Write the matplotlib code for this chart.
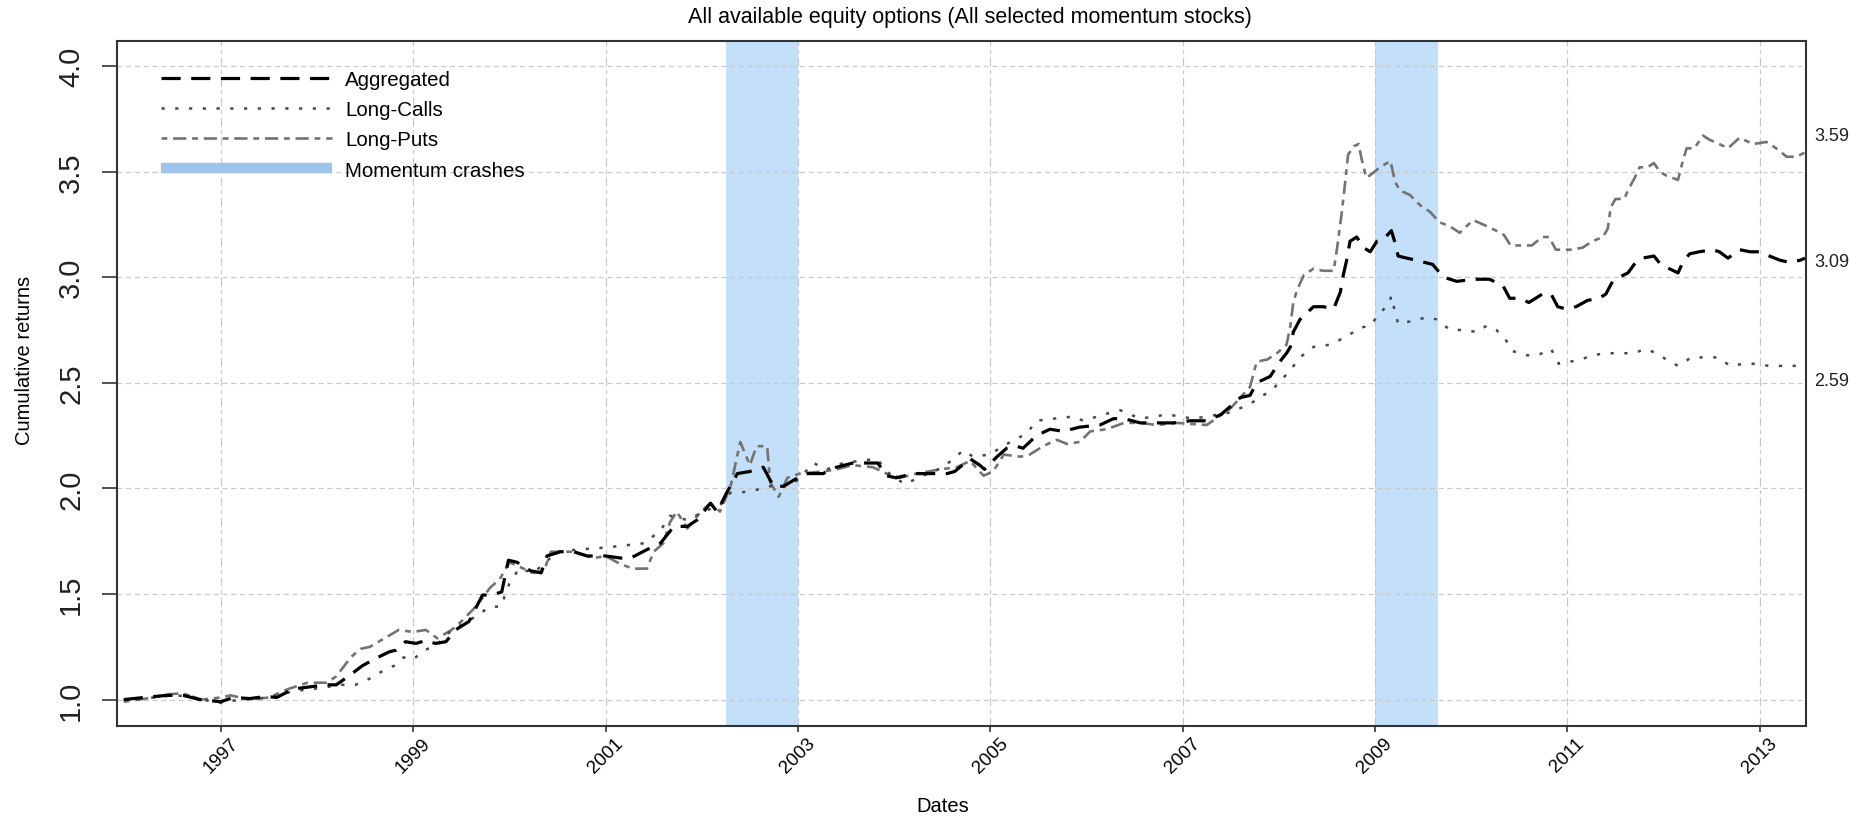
import matplotlib
matplotlib.use("Agg")
import matplotlib.pyplot as plt
from matplotlib.lines import Line2D
from matplotlib.transforms import blended_transform_factory

plt.rcParams['font.family'] = ['Liberation Sans', 'DejaVu Sans']

# cumulative returns (decimal years)
agg_t = [1995.99, 1996.26, 1996.44, 1996.61, 1996.78, 1997.0, 1997.13, 1997.30, 1997.47, 1997.58,
         1997.75, 1997.92, 1998.09, 1998.2, 1998.34, 1998.47, 1998.61, 1998.75, 1998.82, 1998.92,
         1999.03, 1999.13, 1999.23, 1999.34, 1999.44, 1999.58, 1999.72, 1999.82, 1999.92, 1999.99,
         2000.08, 2000.22, 2000.33, 2000.39, 2000.53, 2000.67, 2000.81, 2001.0, 2001.16, 2001.26,
         2001.43, 2001.57, 2001.71, 2001.85, 2001.95, 2002.09, 2002.16, 2002.26, 2002.37, 2002.5,
         2002.64, 2002.71, 2002.75, 2002.85, 2002.96, 2003.09, 2003.26, 2003.4, 2003.57, 2003.75,
         2003.83, 2003.92, 2004.02, 2004.2, 2004.37, 2004.55, 2004.63, 2004.79, 2004.89, 2004.94,
         2005.07, 2005.17, 2005.27, 2005.34, 2005.48, 2005.62, 2005.76, 2005.93, 2006.14, 2006.28,
         2006.39, 2006.56, 2006.73, 2006.9, 2007.08, 2007.25, 2007.4, 2007.5, 2007.6, 2007.7,
         2007.77, 2007.91, 2008.01, 2008.08, 2008.12, 2008.15, 2008.22, 2008.36, 2008.46, 2008.57,
         2008.64, 2008.67, 2008.71, 2008.74, 2008.81, 2008.88, 2008.95, 2009.02, 2009.09, 2009.17,
         2009.21, 2009.24, 2009.33, 2009.43, 2009.6, 2009.71, 2009.85, 2010.02, 2010.19, 2010.33,
         2010.4, 2010.5, 2010.6, 2010.67, 2010.74, 2010.83, 2010.9, 2010.98, 2011.09, 2011.21,
         2011.33, 2011.4, 2011.47, 2011.54, 2011.63, 2011.71, 2011.78, 2011.9, 2011.97, 2012.06,
         2012.15, 2012.2, 2012.27, 2012.37, 2012.51, 2012.58, 2012.67, 2012.79, 2012.9, 2013.0,
         2013.1, 2013.21, 2013.31, 2013.42, 2013.47]
agg_v = [1.00, 1.013, 1.02, 1.02, 1.00, 0.99, 1.01, 1.005, 1.015, 1.01,
         1.05, 1.06, 1.07, 1.07, 1.115, 1.16, 1.195, 1.226, 1.234, 1.274,
         1.266, 1.28, 1.266, 1.274, 1.33, 1.37, 1.495, 1.495, 1.51, 1.66,
         1.65, 1.61, 1.60, 1.68, 1.70, 1.70, 1.68, 1.68, 1.67, 1.67,
         1.71, 1.74, 1.82, 1.82, 1.85, 1.93, 1.89, 1.98, 2.07, 2.08,
         2.10, 2.04, 2.01, 2.01, 2.04, 2.07, 2.07, 2.10, 2.12, 2.12,
         2.12, 2.06, 2.05, 2.07, 2.07, 2.07, 2.08, 2.14, 2.11, 2.09,
         2.15, 2.19, 2.20, 2.19, 2.25, 2.28, 2.27, 2.29, 2.30, 2.33,
         2.33, 2.31, 2.31, 2.31, 2.32, 2.32, 2.35, 2.39, 2.43, 2.44,
         2.50, 2.53, 2.60, 2.64, 2.67, 2.74, 2.80, 2.86, 2.86, 2.85,
         2.93, 3.01, 3.09, 3.17, 3.19, 3.14, 3.12, 3.17, 3.18, 3.22,
         3.16, 3.10, 3.09, 3.08, 3.06, 3.00, 2.98, 2.99, 2.99, 2.96,
         2.90, 2.90, 2.88, 2.90, 2.92, 2.92, 2.86, 2.85, 2.86, 2.89,
         2.90, 2.92, 2.98, 3.00, 3.02, 3.07, 3.09, 3.10, 3.06, 3.04,
         3.02, 3.07, 3.11, 3.12, 3.13, 3.12, 3.09, 3.13, 3.12, 3.12,
         3.10, 3.08, 3.07, 3.08, 3.09]

calls_t = [1995.99, 1996.3, 1996.5, 1996.7, 1996.8, 1997.0, 1997.2, 1997.5, 1997.75, 1997.95,
           1998.1, 1998.25, 1998.4, 1998.55, 1998.7, 1998.8, 1998.9, 1999.0, 1999.1, 1999.25,
           1999.35, 1999.45, 1999.6, 1999.8, 1999.91, 2000.0, 2000.1, 2000.25, 2000.4, 2000.5,
           2000.7, 2001.0, 2001.2, 2001.4, 2001.57, 2001.67, 2001.85, 2002.02, 2002.19, 2002.3,
           2002.4, 2002.54, 2002.71, 2002.89, 2003.0, 2003.16, 2003.3, 2003.47, 2003.82, 2003.95,
           2004.11, 2004.3, 2004.51, 2004.72, 2004.82, 2004.99, 2005.17, 2005.38, 2005.48, 2005.66,
           2005.86, 2005.97, 2006.18, 2006.35, 2006.56, 2006.84, 2007.11, 2007.25, 2007.5, 2007.7,
           2007.94, 2008.12, 2008.22, 2008.36, 2008.53, 2008.71, 2008.84, 2008.95, 2009.05, 2009.14,
           2009.17, 2009.2, 2009.24, 2009.36, 2009.54, 2009.64, 2009.78, 2009.92, 2010.06, 2010.16,
           2010.26, 2010.35, 2010.43, 2010.57, 2010.69, 2010.83, 2010.91, 2011.03, 2011.14, 2011.26,
           2011.4, 2011.54, 2011.68, 2011.82, 2011.92, 2012.03, 2012.15, 2012.29, 2012.43, 2012.57,
           2012.69, 2012.84, 2012.97, 2013.09, 2013.24, 2013.38, 2013.47]
calls_v = [1.00, 1.01, 1.02, 1.015, 1.00, 0.985, 1.00, 1.01, 1.04, 1.05,
           1.06, 1.07, 1.07, 1.10, 1.14, 1.16, 1.20, 1.19, 1.23, 1.26,
           1.31, 1.34, 1.38, 1.44, 1.44, 1.55, 1.62, 1.60, 1.66, 1.70,
           1.71, 1.72, 1.73, 1.74, 1.80, 1.87, 1.85, 1.89, 1.92, 1.98,
           1.98, 1.99, 2.01, 2.01, 2.04, 2.12, 2.09, 2.12, 2.14, 2.07,
           2.02, 2.06, 2.10, 2.18, 2.15, 2.16, 2.21, 2.26, 2.32, 2.33,
           2.34, 2.32, 2.35, 2.37, 2.33, 2.35, 2.33, 2.34, 2.36, 2.40,
           2.47, 2.56, 2.62, 2.67, 2.68, 2.72, 2.76, 2.77, 2.83, 2.87,
           2.91, 2.85, 2.78, 2.79, 2.81, 2.80, 2.75, 2.75, 2.74, 2.77,
           2.75, 2.71, 2.65, 2.63, 2.63, 2.66, 2.59, 2.60, 2.61, 2.63,
           2.64, 2.64, 2.64, 2.66, 2.64, 2.61, 2.58, 2.62, 2.62, 2.62,
           2.58, 2.59, 2.59, 2.58, 2.58, 2.58, 2.59]

puts_t = [1995.99, 1996.3, 1996.45, 1996.6, 1996.8, 1997.0, 1997.1, 1997.3, 1997.5, 1997.7,
          1997.9, 1998.1, 1998.2, 1998.35, 1998.45, 1998.55, 1998.7, 1998.85, 1999.0, 1999.13,
          1999.25, 1999.4, 1999.5, 1999.65, 1999.8, 1999.9, 2000.0, 2000.1, 2000.24, 2000.36,
          2000.43, 2000.64, 2000.88, 2001.0, 2001.16, 2001.29, 2001.43, 2001.5, 2001.6, 2001.67,
          2001.74, 2001.85, 2001.99, 2002.09, 2002.19, 2002.3, 2002.4, 2002.5, 2002.57, 2002.68,
          2002.71, 2002.8, 2002.89, 2003.02, 2003.26, 2003.4, 2003.57, 2003.78, 2003.92, 2004.06,
          2004.23, 2004.48, 2004.65, 2004.79, 2004.93, 2005.03, 2005.14, 2005.31, 2005.41, 2005.55,
          2005.69, 2005.8, 2005.93, 2006.04, 2006.21, 2006.39, 2006.56, 2006.73, 2006.94, 2007.25,
          2007.5, 2007.7, 2007.77, 2007.88, 2007.98, 2008.08, 2008.12, 2008.15, 2008.19, 2008.26,
          2008.36, 2008.46, 2008.57, 2008.6, 2008.65, 2008.69, 2008.72, 2008.78, 2008.83, 2008.86,
          2008.91, 2008.97, 2009.05, 2009.16, 2009.21, 2009.26, 2009.36, 2009.47, 2009.57, 2009.67,
          2009.78, 2009.88, 2010.02, 2010.12, 2010.26, 2010.34, 2010.41, 2010.5, 2010.58, 2010.63,
          2010.74, 2010.81, 2010.88, 2010.95, 2011.05, 2011.16, 2011.26, 2011.37, 2011.42, 2011.45,
          2011.5, 2011.59, 2011.64, 2011.7, 2011.75, 2011.83, 2011.9, 2011.96, 2012.03, 2012.15,
          2012.2, 2012.24, 2012.32, 2012.41, 2012.48, 2012.58, 2012.67, 2012.79, 2012.93, 2013.07,
          2013.17, 2013.28, 2013.38, 2013.47]
puts_v = [0.99, 1.01, 1.025, 1.03, 1.00, 1.01, 1.02, 1.00, 1.01, 1.05,
          1.08, 1.08, 1.11, 1.20, 1.24, 1.25, 1.29, 1.33, 1.32, 1.33,
          1.29, 1.33, 1.37, 1.44, 1.53, 1.57, 1.65, 1.63, 1.60, 1.61,
          1.70, 1.70, 1.67, 1.68, 1.64, 1.62, 1.62, 1.70, 1.74, 1.84,
          1.89, 1.81, 1.89, 1.93, 1.89, 2.01, 2.22, 2.11, 2.20, 2.20,
          2.03, 1.96, 2.05, 2.07, 2.08, 2.09, 2.11, 2.10, 2.07, 2.05,
          2.07, 2.09, 2.10, 2.13, 2.06, 2.08, 2.16, 2.15, 2.16, 2.20,
          2.23, 2.21, 2.22, 2.27, 2.28, 2.31, 2.31, 2.30, 2.31, 2.30,
          2.38, 2.48, 2.60, 2.61, 2.64, 2.68, 2.77, 2.88, 2.94, 3.01,
          3.04, 3.03, 3.03, 3.12, 3.29, 3.45, 3.58, 3.62, 3.63, 3.56,
          3.47, 3.49, 3.52, 3.55, 3.45, 3.41, 3.39, 3.34, 3.31, 3.26,
          3.24, 3.21, 3.27, 3.25, 3.22, 3.20, 3.15, 3.15, 3.15, 3.15,
          3.19, 3.19, 3.13, 3.13, 3.13, 3.14, 3.17, 3.19, 3.23, 3.33,
          3.37, 3.37, 3.42, 3.47, 3.52, 3.52, 3.54, 3.50, 3.48, 3.46,
          3.55, 3.61, 3.61, 3.67, 3.65, 3.63, 3.61, 3.66, 3.63, 3.64,
          3.61, 3.57, 3.57, 3.59]

# momentum crash periods (start, end)
crash_start = [2002.25, 2009.0]
crash_end = [2003.0, 2009.65]

# final values printed at the right edge
final_labels = ['3.59', '3.09', '2.59']

year_ticks = [1997, 1999, 2001, 2003, 2005, 2007, 2009, 2011, 2013]
y_ticks = [1.0, 1.5, 2.0, 2.5, 3.0, 3.5, 4.0]

# where the right-hand labels sit (they are spread apart in the original)
label_pos = [3.67, 3.075, 2.51]

shade_color = '#C3DFFA'
legend_shade = '#9FC4EC'
calls_color = '#4a4a4a'
puts_color = '#737373'


fig = plt.figure(figsize=(18.66, 8.2), dpi=100)
ax = fig.add_axes([0.0627, 0.1134, 0.9051, 0.8354])

for s, e in zip(crash_start, crash_end):
    ax.axvspan(s, e, color=shade_color, lw=0, zorder=0)

# grid
for yv in y_ticks:
    ax.axhline(yv, color='#c8c8c8', lw=0.9, dashes=(4, 3), zorder=1)
for xv in year_ticks:
    ax.axvline(xv, color='#c8c8c8', lw=0.9, dashes=(7, 3, 3, 3), zorder=1)

ax.plot(puts_t, puts_v, color=puts_color, lw=1.9, dashes=(2.2, 2.2, 5, 2.2), zorder=3)
ax.plot(calls_t, calls_v, color=calls_color, lw=1.8, dashes=(1.3, 4.2), zorder=3)
ax.plot(agg_t, agg_v, color='black', lw=2.3, dashes=(6, 3.3), zorder=4)

ax.set_xlim(1995.92, 2013.48)
ax.set_ylim(0.875, 4.118)

ax.set_xticks(year_ticks)
ax.set_xticklabels([str(y) for y in year_ticks], rotation=45, ha='center', va='top', fontsize=13.5)
ax.set_yticks(y_ticks)
ax.set_yticklabels(['%.1f' % y for y in y_ticks], rotation=90, va='center', fontsize=21, color='#222222')
ax.tick_params(axis='x', length=4, width=1.2, pad=2, color='#333333')
ax.tick_params(axis='y', length=11, width=1.2, pad=12, color='#333333')

for sp in ax.spines.values():
    sp.set_linewidth(1.5)
    sp.set_color('#333333')

tr = blended_transform_factory(ax.transAxes, ax.transData)
for lab, pos in zip(final_labels, label_pos):
    ax.text(1.005, pos, lab, transform=tr, ha='left', va='center', fontsize=13, color='#222222')

handles = [
    Line2D([], [], color='black', lw=2.3, dashes=(6, 3.3)),
    Line2D([], [], color=calls_color, lw=1.8, dashes=(1.3, 4.2)),
    Line2D([], [], color=puts_color, lw=1.9, dashes=(2.2, 2.2, 5, 2.2)),
    Line2D([], [], color=legend_shade, lw=7.5, solid_capstyle='butt'),
]
labels = ['Aggregated', 'Long-Calls', 'Long-Puts', 'Momentum crashes']
ax.legend(handles, labels, loc='upper left', bbox_to_anchor=(0.026, 0.958), frameon=False,
          fontsize=14.8, handlelength=8.3, handletextpad=0.65, labelspacing=0.55,
          borderpad=0, borderaxespad=0)

fig.text(0.52, 0.979, 'All available equity options (All selected momentum stocks)',
         ha='center', va='center', fontsize=15.5)
fig.text(0.013, 0.561, 'Cumulative returns', rotation=90, ha='center', va='center', fontsize=14.5)
fig.text(0.505, 0.005, 'Dates', ha='center', va='bottom', fontsize=14.5)

fig.savefig('out.png', dpi=100)
